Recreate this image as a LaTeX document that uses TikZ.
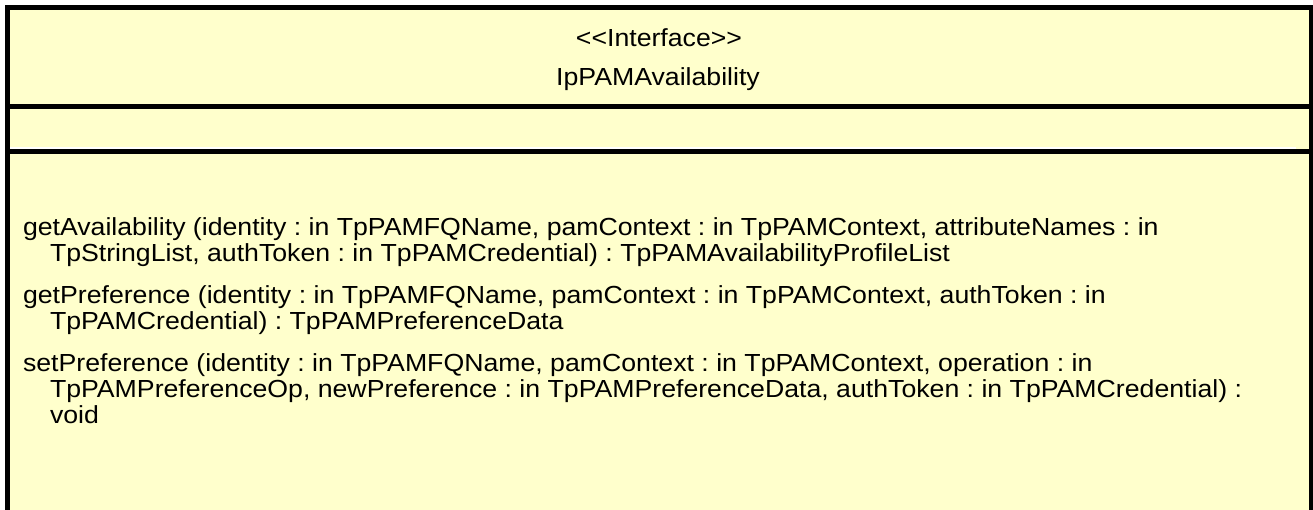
\documentclass[tikz,border=0pt]{standalone}
\usepackage{fontspec}
\setmainfont{Liberation Sans}[FakeStretch=1.08]
\definecolor{umlfill}{HTML}{FFFFCC}
\tikzset{
  umltext/.style={inner sep=0pt, outer sep=0pt, text=black, font=\fontsize{24.7}{28}\selectfont\frenchspacing},
  optext/.style={umltext, anchor=base west},
  titletext/.style={umltext, anchor=base},
  border/.style={line width=5pt, draw=black, line cap=rect}
}
\begin{document}
\frenchspacing
\begin{tikzpicture}[x=1pt,y=-1pt]
\useasboundingbox (0,0) rectangle (1313,509);
\clip (0,0) rectangle (1313,509);
\fill[umlfill] (10,10) rectangle (1309,520);
% outer border (bottom edge lies below the picture)
\draw[border] (7.5,530) -- (7.5,7.5) -- (1311,7.5) -- (1311,530);
% compartment dividers
\draw[line width=5pt] (7.5,106.5) -- (1311,106.5);
\draw[line width=5pt] (7.5,151.5) -- (1311,151.5);
\draw[white, line width=2pt] (10,148) -- (1296,148);
% name compartment
\node[titletext] (stereo) at (659,46) {<\kern0pt<Interface>\kern0pt>};
\node[titletext] (name) at (658,85) {IpPAMAvailability};
% operations
\node[optext] (op1a) at (23,235) {getAvailability (identity : in TpPAMFQName, pamContext : in TpPAMContext, attributeNames : in};
\node[optext] (op1b) at (50,261) {TpStringList, authToken : in TpPAMCredential) : TpPAMAvailabilityProfileList};
\node[optext] (op2a) at (23,303) {getPreference (identity : in TpPAMFQName, pamContext : in TpPAMContext, authToken : in};
\node[optext] (op2b) at (50,329) {TpPAMCredential) : TpPAMPreferenceData};
\node[optext] (op3a) at (23,371) {setPreference (identity : in TpPAMFQName, pamContext : in TpPAMContext, operation : in};
\node[optext] (op3b) at (50,397) {TpPAMPreferenceOp, newPreference : in TpPAMPreferenceData, authToken : in TpPAMCredential) :};
\node[optext] (op3c) at (50,423) {void};
\end{tikzpicture}
\end{document}
